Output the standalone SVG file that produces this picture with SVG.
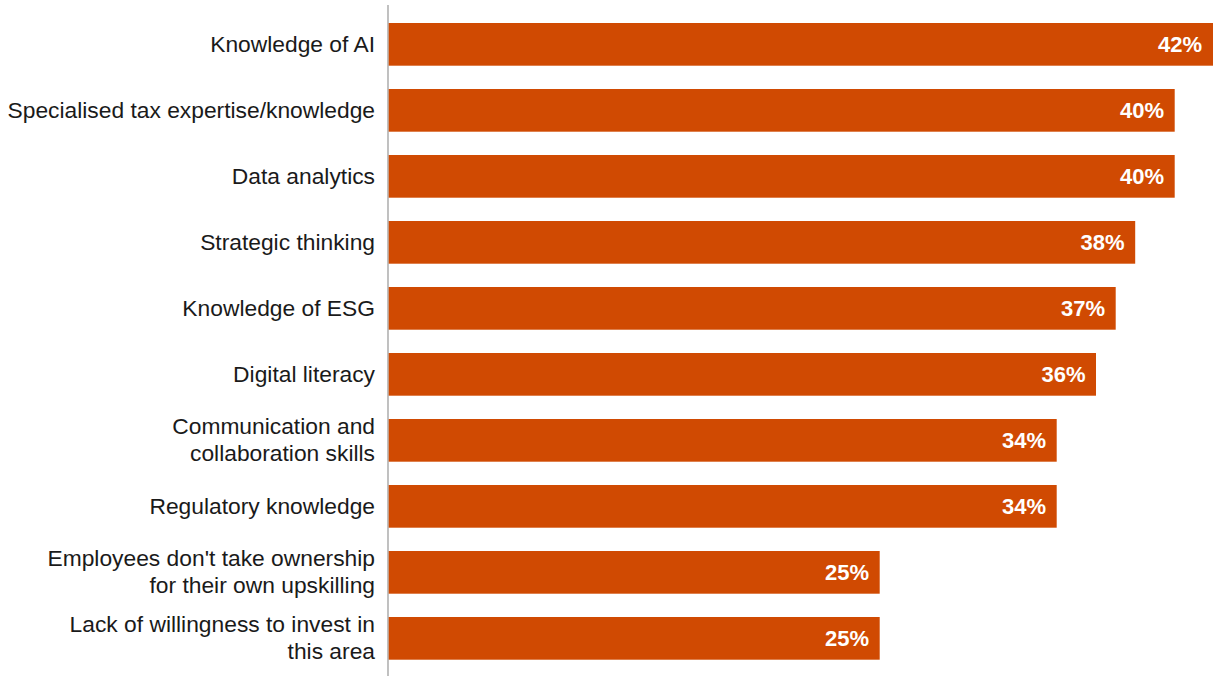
<svg xmlns="http://www.w3.org/2000/svg" width="1213" height="676" viewBox="0 0 1213 676">
<style>
.bar{fill:#D04A02}
.lbl{font-family:"Liberation Sans",Arial,Helvetica,sans-serif;font-size:22.8px;fill:#1a1a1a;text-anchor:end}
.val{font-family:"Liberation Sans",Arial,Helvetica,sans-serif;font-size:22px;font-weight:bold;fill:#ffffff;text-anchor:end}
.axis{stroke:#a6a6a6;stroke-width:1.4;fill:none}
</style>
<rect width="1213" height="676" fill="#ffffff"/>
<g id="connectors">
<line class="axis" x1="388" y1="5" x2="388" y2="676"/>
</g>
<g id="bar1"><rect class="bar" x="388.7" y="23" width="824.3" height="42.7"/><text class="lbl" x="375" y="52">Knowledge of AI</text><text class="val" x="1202" y="52">42%</text></g>
<g id="bar2"><rect class="bar" x="388.7" y="89" width="786" height="42.7"/><text class="lbl" x="375" y="118">Specialised tax expertise/knowledge</text><text class="val" x="1164" y="118">40%</text></g>
<g id="bar3"><rect class="bar" x="388.7" y="155" width="786" height="42.7"/><text class="lbl" x="375" y="184">Data analytics</text><text class="val" x="1164" y="184">40%</text></g>
<g id="bar4"><rect class="bar" x="388.7" y="221" width="746.5" height="42.7"/><text class="lbl" x="375" y="250">Strategic thinking</text><text class="val" x="1124.5" y="250">38%</text></g>
<g id="bar5"><rect class="bar" x="388.7" y="287" width="727" height="42.7"/><text class="lbl" x="375" y="316">Knowledge of ESG</text><text class="val" x="1105" y="316">37%</text></g>
<g id="bar6"><rect class="bar" x="388.7" y="353" width="707.3" height="42.7"/><text class="lbl" x="375" y="382">Digital literacy</text><text class="val" x="1085.5" y="382">36%</text></g>
<g id="bar7"><rect class="bar" x="388.7" y="419" width="668" height="42.7"/><text class="lbl" x="375" y="434">Communication and</text><text class="lbl" x="375" y="461">collaboration skills</text><text class="val" x="1046" y="448">34%</text></g>
<g id="bar8"><rect class="bar" x="388.7" y="485" width="668" height="42.7"/><text class="lbl" x="375" y="514">Regulatory knowledge</text><text class="val" x="1046" y="514">34%</text></g>
<g id="bar9"><rect class="bar" x="388.7" y="551" width="491" height="42.7"/><text class="lbl" x="375" y="566">Employees don't take ownership</text><text class="lbl" x="375" y="593">for their own upskilling</text><text class="val" x="869" y="580">25%</text></g>
<g id="bar10"><rect class="bar" x="388.7" y="617" width="491" height="42.7"/><text class="lbl" x="375" y="632">Lack of willingness to invest in</text><text class="lbl" x="375" y="659">this area</text><text class="val" x="869" y="646">25%</text></g>
</svg>
